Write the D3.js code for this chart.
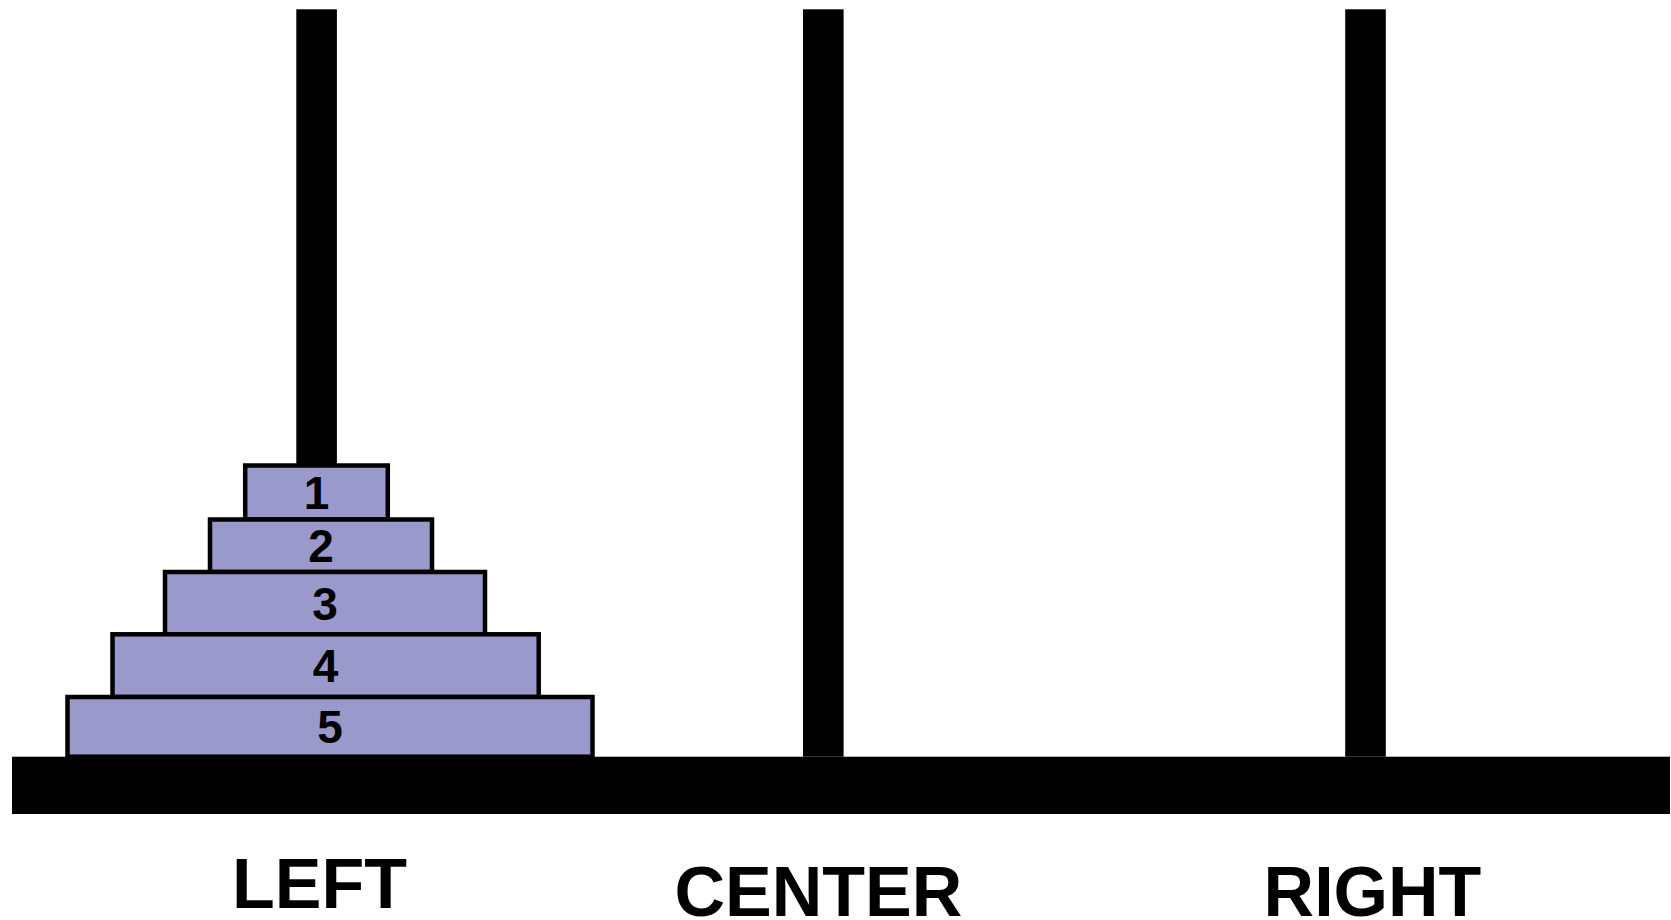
<!DOCTYPE html>
<html>
<head>
<meta charset="utf-8">
<script src="https://cdn.jsdelivr.net/npm/d3@7"></script>
<style>
  body { margin: 0; background: #fff; }
  text { font-family: "Liberation Sans", Arial, sans-serif; font-weight: bold; }
</style>
</head>
<body>
<div id="chart"></div>
<script>
// Pegs (x in drawing units, heights measured up from the top of the base)
const pegNames = ["LEFT", "CENTER", "RIGHT"];
const pegCenters = [316.6, 823.3, 1365.5];
const pegHeight = 747.4;

// Disks, smallest on top
const diskLabels = ["1", "2", "3", "4", "5"];
const diskLeft = [245.2, 210, 165, 112.5, 67.5];
const diskRight = [387.8, 432, 485, 538.7, 592.5];
const diskLow = [237.2, 184.7, 122.4, 59.7, 0];
const diskHigh = [291.2, 237.2, 184.7, 122.4, 59.7];

function hanoiChart(config) {
  const { width, height, container } = config;

  const svg = d3.select(container).append("svg")
      .attr("width", width)
      .attr("height", height)
      .style("display", "block")
      .style("background", "#fff");

  const x = d3.scaleLinear().domain([0, 1671]).range([0, width]);
  const y = d3.scaleLinear().domain([0, pegHeight]).range([756.7, 9.3]);

  const pegW = 40.6;

  // pegs
  svg.selectAll(".peg")
    .data(pegCenters)
    .enter()
    .append("rect")
      .attr("class", "peg")
      .attr("x", d => x(d) - pegW / 2)
      .attr("y", y(pegHeight))
      .attr("width", pegW)
      .attr("height", y(0) - y(pegHeight))
      .style("fill", "#000");

  // disks
  const disks = diskLabels.map((k, i) => ({
    key: k, left: diskLeft[i], right: diskRight[i], low: diskLow[i], high: diskHigh[i]
  }));

  svg.selectAll(".disk")
    .data(disks)
    .enter()
    .append("rect")
      .attr("class", "disk")
      .attr("x", d => x(d.left))
      .attr("y", d => y(d.high))
      .attr("width", d => x(d.right) - x(d.left))
      .attr("height", d => y(d.low) - y(d.high))
      .style("fill", "#9999cc")
      .style("stroke", "#000")
      .style("stroke-width", 4.5);

  svg.selectAll(".disk-label")
    .data(disks)
    .enter()
    .append("text")
      .attr("class", "disk-label")
      .attr("x", d => x((d.left + d.right) / 2))
      .attr("y", d => (y(d.low) + y(d.high)) / 2 + 16.5)
      .style("text-anchor", "middle")
      .style("font-size", "46px")
      .style("fill", "#000")
      .text(d => d.key);

  // base
  svg.append("rect")
    .attr("class", "base")
    .attr("x", x(12))
    .attr("y", y(0))
    .attr("width", x(1670) - x(12))
    .attr("height", 57.3)
    .style("fill", "#000");

  // peg names
  const nameDx = [3, -5, 7];
  const nameY = [908, 916, 916];
  svg.selectAll(".peg-name")
    .data(pegNames)
    .enter()
    .append("text")
      .attr("class", "peg-name")
      .attr("x", (d, i) => x(pegCenters[i]) + nameDx[i])
      .attr("y", (d, i) => nameY[i])
      .style("text-anchor", "middle")
      .style("font-size", "70px")
      .style("fill", "#000")
      .text(d => d);
}

hanoiChart({ width: 1671, height: 920, container: "#chart" });
</script>
</body>
</html>
